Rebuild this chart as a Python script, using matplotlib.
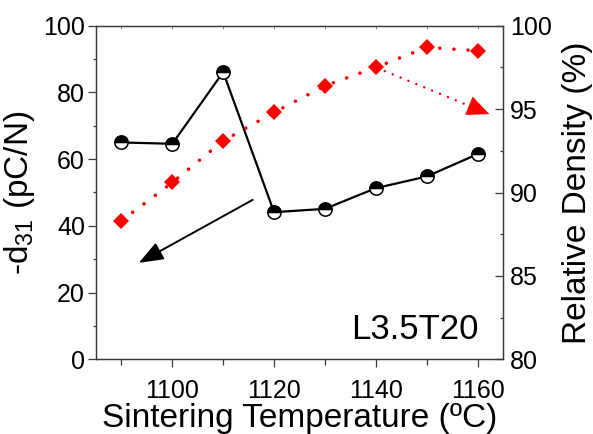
import matplotlib
matplotlib.use("Agg")
import matplotlib.pyplot as plt
from matplotlib.ticker import MultipleLocator

plt.rcParams['font.family'] = ['Liberation Sans', 'DejaVu Sans']
plt.rcParams['mathtext.fontset'] = 'custom'
plt.rcParams['mathtext.rm'] = 'Liberation Sans'
plt.rcParams['mathtext.it'] = 'Liberation Sans'

# Sintering temperatures (°C)
temperature = [1090, 1100, 1110, 1120, 1130, 1140, 1150, 1160]
# Piezoelectric coefficient -d31 (pC/N)
d31 = [65.0, 64.6, 86.1, 44.1, 45.1, 51.3, 54.8, 61.5]
# Relative density (%)
density = [88.3, 90.6, 93.1, 94.8, 96.4, 97.5, 98.7, 98.5]

x_ticks = [1100, 1120, 1140, 1160]
sample_name = "L3.5T20"

spine_color = '#3a3a3a'

fig = plt.figure(figsize=(5.93, 4.34), dpi=100)
ax = fig.add_axes([96 / 593, 1 - 359.3 / 434, 407 / 593, 333.6 / 434])
ax2 = ax.twinx()

# -d31 curve: half-filled circles on a solid black line
ax.plot(temperature, d31, color='black', lw=1.6, marker='o', markersize=9.6,
        fillstyle='top', markerfacecolor='black', markerfacecoloralt='white',
        markeredgecolor='black', markeredgewidth=1.1, zorder=3)

# relative density curve: red diamonds on a dotted line
ax2.plot(temperature, density, color='red', lw=2.6, linestyle=(0, (0.01, 3.9)),
         dash_capstyle='round', marker='D', markersize=8.2, markeredgewidth=0,
         zorder=3)

ax.set_xlim(1085, 1165)
ax.set_ylim(0, 100)
ax2.set_ylim(80, 100)

ax.set_xticks(x_ticks)
ax.xaxis.set_minor_locator(MultipleLocator(10))
ax.yaxis.set_major_locator(MultipleLocator(20))
ax.yaxis.set_minor_locator(MultipleLocator(10))
ax2.yaxis.set_major_locator(MultipleLocator(5))
ax2.yaxis.set_minor_locator(MultipleLocator(2.5))

for a in (ax, ax2):
    for s in a.spines.values():
        s.set_color(spine_color)
        s.set_linewidth(0.9)

ax.tick_params(axis='x', which='major', direction='out', length=6, width=0.9,
               color=spine_color, labelsize=18, pad=8)
ax.tick_params(axis='x', which='minor', direction='out', length=4, width=0.9,
               color=spine_color)
ax.tick_params(axis='y', which='major', direction='out', length=6, width=0.9,
               color=spine_color, labelsize=18, pad=2)
ax.tick_params(axis='y', which='minor', direction='out', length=2.5, width=0.9,
               color=spine_color)
ax2.tick_params(axis='y', which='major', direction='in', length=6, width=0.9,
                color=spine_color, labelsize=18, pad=5)
ax2.tick_params(axis='y', which='minor', direction='in', length=2.5, width=0.9,
                color=spine_color)

# small inward ticks along the top frame
top = ax.secondary_xaxis('top')
top.set_xticks(x_ticks)
top.xaxis.set_minor_locator(MultipleLocator(10))
top.tick_params(which='both', direction='in', length=2, width=0.7,
                color='#888888', labeltop=False)
top.spines['top'].set_visible(False)

ax.set_xlabel("Sintering Temperature (ºC)", fontsize=24, labelpad=0)
ax.set_ylabel("-d$_{31}$ (pC/N)", fontsize=24, labelpad=4)
ax2.set_ylabel("Relative Density (%)", fontsize=24, labelpad=7)

ax.text(0.94, 0.09, sample_name, transform=ax.transAxes, fontsize=25,
        ha='right', va='center')

# arrow pointing to the left-hand axis
ax.annotate("", xy=(1093.4, 28.9), xytext=(1115.8, 47.8),
            arrowprops=dict(arrowstyle='-|>,head_length=1.0,head_width=0.38',
                            mutation_scale=15, color='black', lw=1.4,
                            shrinkA=0, shrinkB=0), zorder=4)

# dotted arrow pointing to the right-hand axis: dotted shaft + solid head
start = (temperature[5], density[5])
tip = (1162.3, 94.7)
ax2.annotate("", xy=tip, xytext=start,
             arrowprops=dict(arrowstyle='-', color='red', lw=1.8,
                             linestyle=(0, (0.01, 3.4)), capstyle='round',
                             shrinkA=7, shrinkB=11), zorder=4)
frac = 0.14
head_base = (tip[0] - frac * (tip[0] - start[0]),
             tip[1] - frac * (tip[1] - start[1]))
ax2.annotate("", xy=tip, xytext=head_base,
             arrowprops=dict(arrowstyle='-|>,head_length=1.0,head_width=0.45',
                             mutation_scale=15, color='red', lw=0.5,
                             shrinkA=0, shrinkB=0), zorder=4)

fig.savefig("out.png", dpi=100)
